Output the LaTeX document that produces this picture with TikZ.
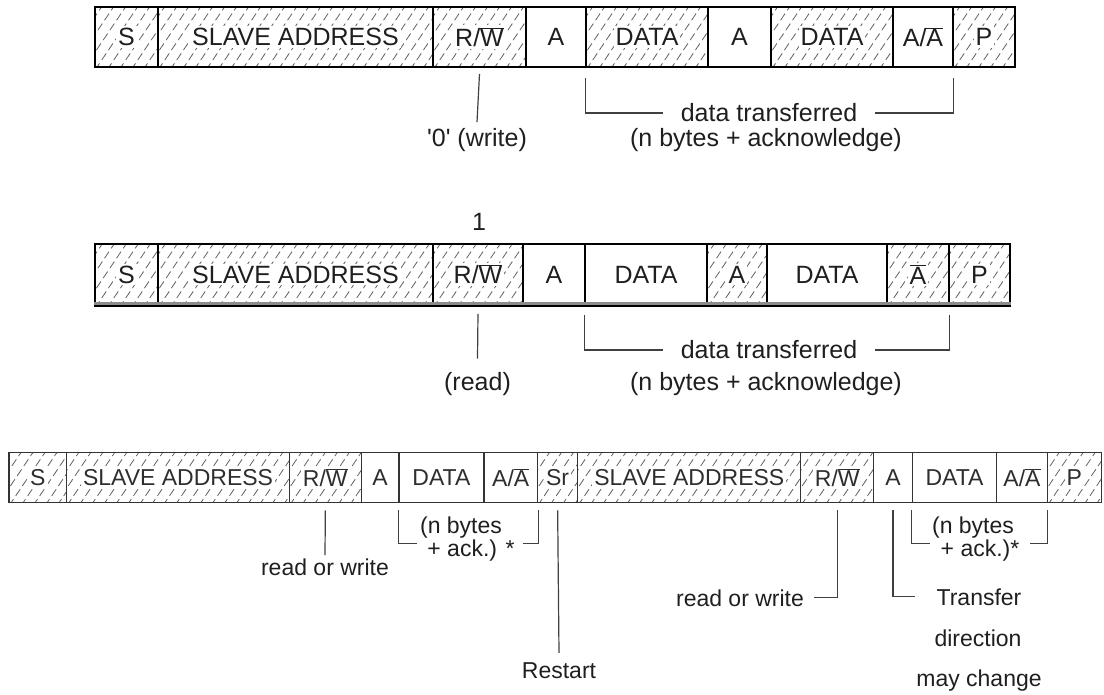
\documentclass[tikz,border=0pt]{standalone}
\usepackage{fontspec}
\setmainfont{Liberation Sans}
\begin{document}
\begin{tikzpicture}[x=1pt,y=-1pt,
  fieldbox/.style={draw=black, line width=1.6pt, fill=white, inner sep=0pt, text=black!88},
  lowbox/.style={draw=black!80, line width=1.3pt, fill=white, inner sep=0pt, text=black!82},
  hatched/.style={path picture={
    \foreach \k in {-6,...,27}{
      \draw[black!62, line width=0.8pt, dash pattern=on 8pt off 4pt]
        ([xshift=\k*12pt, yshift=-3pt]path picture bounding box.south west) -- ++(56:110pt);
    }}},
  lbl/.style={inner sep=0pt, text=black!88},
  lead/.style={draw=black!75, line width=1.2pt},
  bigfont/.style={font=\fontsize{25}{30}\selectfont},
  smallfont/.style={font=\fontsize{23}{27}\selectfont},
  rowstyle/.style={fieldbox,bigfont},
]
\useasboundingbox (0,0) rectangle (1104,695);

% label with a white patch so the hatching stays clear of it
\newcommand\wb[1]{{\setlength{\fboxsep}{2pt}\colorbox{white}{#1}}}
\newcommand\RWbar{R/$\overline{\mbox{W}}$}
\newcommand\Abar{$\overline{\mbox{A}}$}
% one frame field: [style]{name}{left x}{right x}{text}
\newcommand\fieldat[5][]{%
  \node[rowstyle,#1,minimum width={(#4-#3)*1pt},minimum height={\rowh*1pt}]
    (#2) at ({(#3+#4)/2},\rowc) {#5};}

%% ---------- master write frame ----------
\def\rowc{37}\def\rowh{60}
\fieldat[hatched]{sa}{95}{158}{\wb{S}}
\fieldat[hatched]{adra}{158}{433}{\wb{SLAVE ADDRESS}}
\fieldat[hatched]{rwa}{433}{526}{\wb{\RWbar}}
\fieldat{aa1}{526}{586}{A}
\fieldat[hatched]{da1}{586}{708}{\wb{DATA}}
\fieldat{aa2}{708}{771}{A}
\fieldat[hatched]{da2}{771}{893}{\wb{DATA}}
\fieldat{aaa}{893}{953}{A/\Abar}
\fieldat[hatched]{pa}{953}{1015}{\wb{P}}

\node[lbl,bigfont,anchor=base] (wr) at (477,146.5) {\textquotesingle 0\textquotesingle\ (write)};
\draw[lead] ([yshift=-6pt]rwa.south) -- ([yshift=6pt]wr.north);
\node[lbl,bigfont,inner xsep=18pt] (dta) at (769,113) {data transferred};
\draw[lead] ([yshift=-10pt]da1.south west) |- (dta.west);
\draw[lead] ([yshift=-10pt]aaa.south east) |- (dta.east);
\node[lbl,bigfont,anchor=base] (nba) at (766,146.7) {(n bytes + acknowledge)};

%% ---------- master read frame ----------
\def\rowc{274.5}\def\rowh{61}
\fieldat[hatched]{sb}{95}{158}{\wb{S}}
\fieldat[hatched]{adrb}{158}{433}{\wb{SLAVE ADDRESS}}
\fieldat[hatched]{rwb}{433}{523}{\wb{\RWbar}}
\fieldat{ab1}{523}{585}{A}
\fieldat{db1}{585}{707}{DATA}
\fieldat[hatched]{ab2}{707}{767}{\wb{A}}
\fieldat{db2}{767}{887}{DATA}
\fieldat[hatched]{nab}{887}{949}{\wb{\Abar}}
\fieldat[hatched]{pb}{949}{1010}{\wb{P}}
\draw[black!45, line width=3pt] ([yshift=2.6pt]sb.south west) -- ([yshift=2.6pt]pb.south east);
\draw[black, line width=1.6pt] (sb.south west) -- (pb.south east);

\node[lbl,bigfont,anchor=base] (one) at (479,231) {1};
\node[lbl,bigfont,anchor=base] (rd) at (477.5,390) {(read)};
\draw[lead] ([yshift=-8pt]rwb.south) -- ([yshift=13pt]rd.north);
\node[lbl,bigfont,inner xsep=18pt] (dtb) at (769,350) {data transferred};
\draw[lead] ([yshift=-9pt]db1.south west) |- (dtb.west);
\draw[lead] ([yshift=-9pt]nab.south east) |- (dtb.east);
\node[lbl,bigfont,anchor=base] (nbb) at (766,390) {(n bytes + acknowledge)};

%% ---------- combined frame with repeated start ----------
\tikzset{rowstyle/.style={lowbox,smallfont}}
\def\rowc{477.8}\def\rowh{50}
\fieldat[hatched]{sc}{9}{66.8}{\wb{S}}
\fieldat[hatched]{adrc}{66.8}{289.3}{\wb{SLAVE ADDRESS}}
\fieldat[hatched]{rwc}{289.3}{361.4}{\wb{\RWbar}}
\fieldat{ac}{361.4}{398.9}{A}
\fieldat{dc}{398.9}{483.9}{DATA}
\fieldat{aac}{483.9}{537.5}{A/\Abar}
\fieldat[hatched]{src}{537.5}{577.8}{\wb{Sr}}
\fieldat[hatched]{adrd}{577.8}{800.8}{\wb{SLAVE ADDRESS}}
\fieldat[hatched]{rwd}{800.8}{873.8}{\wb{\RWbar}}
\fieldat{ad}{873.8}{912.3}{A}
\fieldat{dd}{912.3}{996.8}{DATA}
\fieldat{aad}{996.8}{1047.2}{A/\Abar}
\fieldat[hatched]{pd}{1047.2}{1101.3}{\wb{P}}

\node[lbl,smallfont,anchor=base] (rwl1) at (325,575) {read or write};
\draw[lead] ([yshift=-7pt]rwc.south) -- ([yshift=3pt]rwl1.north);

\coordinate (bkl1) at (416.7,543.3);
\coordinate (bkr1) at (523.3,543.3);
\draw[lead] ([yshift=-7pt]dc.south west) |- (bkl1);
\draw[lead] ([yshift=-7pt]aac.south east) |- (bkr1);
\node[lbl,smallfont,anchor=base] (nbc1) at (461,533) {(n bytes};
\node[lbl,smallfont,anchor=base] (nbc2) at (471,556) {+ ack.) *};

\node[lbl,smallfont,anchor=base] (rst) at (559,678) {Restart};
\draw[lead] ([yshift=-7pt]src.south) -- ([yshift=9pt]rst.north);

\node[lbl,smallfont,anchor=base,inner xsep=10pt] (rwl2) at (740,606) {read or write};
\draw[lead] ([yshift=-7pt]rwd.south) |- (rwl2.east);

\node[lbl,smallfont,anchor=base,inner xsep=21pt] (tf1) at (979,605) {Transfer};
\node[lbl,smallfont,anchor=base] (tf2) at (978,646.7) {direction};
\node[lbl,smallfont,anchor=base] (tf3) at (979,686) {may change};
\draw[lead] ([yshift=-7pt]ad.south) |- (tf1.west);

\coordinate (bkl2) at (930,543.3);
\coordinate (bkr2) at (1030,543.3);
\draw[lead] ([yshift=-7pt]dd.south west) |- (bkl2);
\draw[lead] ([yshift=-7pt]aad.south east) |- (bkr2);
\node[lbl,smallfont,anchor=base] (nbd1) at (973,533) {(n bytes};
\node[lbl,smallfont,anchor=base] (nbd2) at (980,556) {+ ack.)*};
\end{tikzpicture}
\end{document}
